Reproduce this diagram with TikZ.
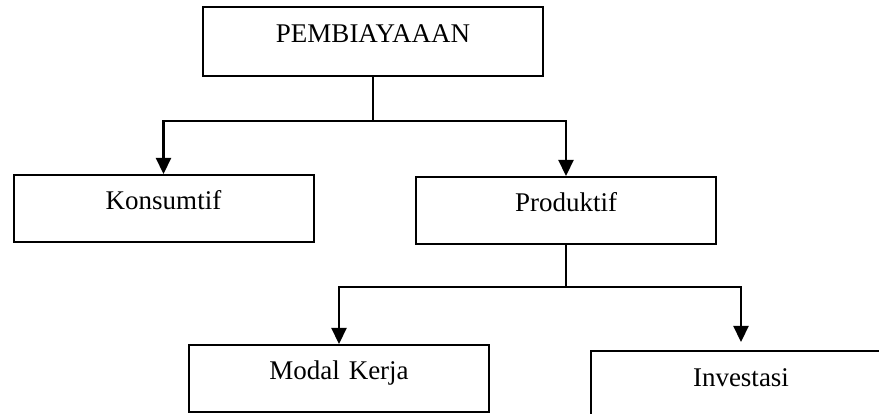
\documentclass[tikz,border=0pt]{standalone}
\usepackage{fontspec}
\setmainfont{Liberation Serif}
\usetikzlibrary{%
  positioning
 ,arrows.meta
}
\tikzstyle{kotak}=[draw=black,line width=2pt,inner sep=0pt,text width=300pt,align=center,text height=35pt,text depth=32pt]
\tikzstyle{panah}=[line width=2.2pt,-{Triangle[length=16pt,width=15pt]}]

\begin{document}
\begin{tikzpicture}[x=1pt,y=-1pt,%
  every node/.style={font=\fontsize{27}{31}\selectfont}]
\useasboundingbox (0,0) rectangle (879,414);
\node[kotak,text width=340pt,text height=36pt,text depth=33pt](pb)at(373,41.5){PEMBIAYAAAN};
\node[kotak](kon)at(163.5,208.5){Konsumtif};
\node[kotak](prod)at(566,210.5){Produktif};
\node[kotak](mk)at(339,378.5){Modal Kerja};
\node[kotak](inv)at(741,384.5){Investasi};
\coordinate(j1)at(pb.south|-0,121);
\coordinate(j2)at(prod.south|-0,287);
\draw[line width=1.3pt](pb.south)--(j1);
\draw[line width=1.3pt](prod.south)--(j2);
\draw[panah](j1)-|(kon.north);
\draw[panah](j1)-|(prod.north);
\draw[panah](j2)-|(mk.north);
\draw[panah](j2)-|([yshift=8pt]inv.north);
\end{tikzpicture}
\end{document}
